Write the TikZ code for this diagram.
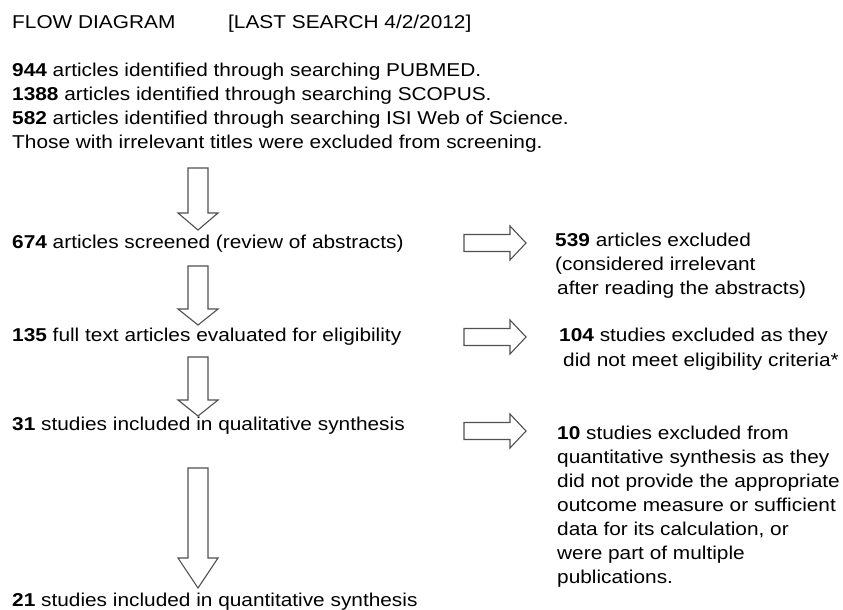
\documentclass[tikz,border=0pt]{standalone}
\usepackage{fontspec}
\setmainfont{Liberation Sans}[FakeStretch=1.12]
\usetikzlibrary{positioning}
\definecolor{arrowgray}{HTML}{505050}

% block arrows: centre x, top, head start, tip
\newcommand{\downblock}[4]{%
  \draw[blockarrow] (#1-10,#2) -- (#1+10,#2) -- (#1+10,#3) -- (#1+20,#3)
    -- (#1,#4) -- (#1-20,#3) -- (#1-10,#3) -- cycle;}
% centre y
\newcommand{\rightblock}[1]{%
  \draw[blockarrow] (464,#1-8.5) -- (510,#1-8.5) -- (510,#1-17) -- (526,#1)
    -- (510,#1+17) -- (510,#1+8.5) -- (464,#1+8.5) -- cycle;}

\begin{document}
\begin{tikzpicture}[
    x=1pt, y=-1pt,
    blockarrow/.style={draw=arrowgray, line width=1.1pt, fill=white, line join=miter},
    entry/.style={anchor=base west, inner sep=0pt, align=left, font=\fontsize{18.6}{24}\selectfont}
]
\fill[white] (0,0) rectangle (843,610);
\useasboundingbox (0,0) rectangle (843,610);

% heading
\node[entry] (title) at (12,29) {FLOW DIAGRAM};
\node[entry] (search) at (228,29) {[LAST SEARCH 4/2/2012]};

% left column (multi-line nodes sit on their last baseline)
\node[entry] (found) at (12,148) {\textbf{944} articles identified through searching PUBMED.\\
    \textbf{1388} articles identified through searching SCOPUS.\\
    \textbf{582} articles identified through searching ISI Web of Science.\\
    Those with irrelevant titles were excluded from screening.};
\node[entry] (screened) at (12,248) {\textbf{674} articles screened (review of abstracts)};
\node[entry] (fulltext) at (12,341) {\textbf{135} full text articles evaluated for eligibility};
\node[entry] (qualit) at (12,430) {\textbf{31} studies included in qualitative synthesis};
\node[entry] (quantit) at (12,606) {\textbf{21} studies included in quantitative synthesis};

% right column
\node[entry] (excl1) at (555,294) {\textbf{539} articles excluded\\
    (considered irrelevant\\
    \hspace{2pt}after reading the abstracts)};
\node[entry] (excl2) at (559,366) {\textbf{104} studies excluded as they\\[1pt]
    \hspace{4pt}did not meet eligibility criteria*};
\node[entry] (excl3) at (557,583) {\textbf{10} studies excluded from\\
    quantitative synthesis as they\\
    did not provide the appropriate\\
    outcome measure or sufficient\\
    data for its calculation, or\\
    were part of multiple\\
    publications.};

% arrows
\downblock{198}{168}{213}{230}
\downblock{198}{266}{309}{325}
\downblock{198}{357}{400}{416}
\downblock{198}{468}{558}{588}
\rightblock{243}
\rightblock{337}
\rightblock{431}
\end{tikzpicture}
\end{document}
